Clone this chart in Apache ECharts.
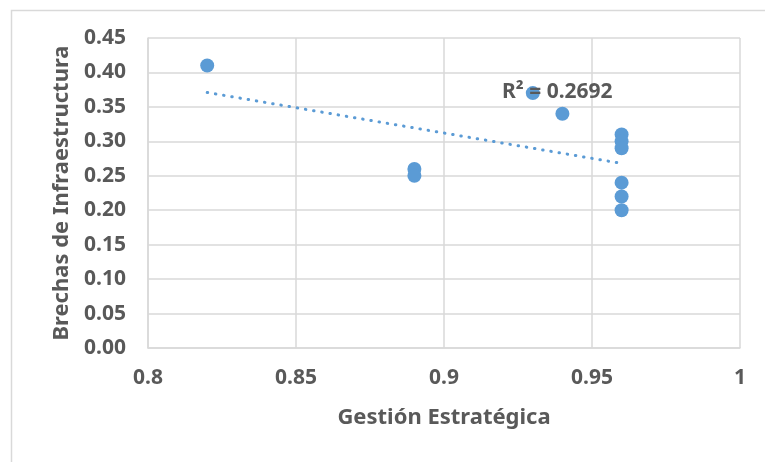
<!DOCTYPE html>
<html>
<head>
<meta charset="utf-8">
<script src="https://cdn.jsdelivr.net/npm/echarts@6/dist/echarts.min.js"></script>
<style>
html,body{margin:0;padding:0;background:#fff;}
#chart{width:765px;height:462px;}
</style>
</head>
<body>
<div id="chart"></div>
<script>
var gestion = [0.82, 0.89, 0.89, 0.93, 0.94, 0.96, 0.96, 0.96, 0.96, 0.96, 0.96];
var brechas = [0.41, 0.26, 0.25, 0.37, 0.34, 0.31, 0.30, 0.29, 0.24, 0.22, 0.20];
var xTitle = 'Gestión Estratégica';
var yTitle = 'Brechas de Infraestructura';
var r2Label = 'R² = 0.2692';

// linear trend (least squares) from data
var n = gestion.length, mx = 0, my = 0;
for (var i = 0; i < n; i++) { mx += gestion[i]; my += brechas[i]; }
mx /= n; my /= n;
var sxx = 0, sxy = 0;
for (var i = 0; i < n; i++) { sxx += (gestion[i]-mx)*(gestion[i]-mx); sxy += (gestion[i]-mx)*(brechas[i]-my); }
var slope = sxy / sxx, icpt = my - slope * mx;
var xMin = Math.min.apply(null, gestion), xMax = Math.max.apply(null, gestion);
var trend = [[xMin, icpt + slope*xMin], [xMax, icpt + slope*xMax]];

var FONT = 'Noto Sans';
var TXT = '#595959';
var GRID = '#D9D9D9';
var BLUE = '#5B9BD5';

var chart = echarts.init(document.getElementById('chart'), null, {renderer: 'canvas'});
chart.setOption({
  animation: false,
  backgroundColor: '#fff',
  grid: {left: 148, right: 25, top: 38, bottom: 114, containLabel: false},
  xAxis: {
    type: 'value', min: 0.8, max: 1, interval: 0.05,
    name: xTitle, nameLocation: 'middle', nameGap: 59,
    nameTextStyle: {fontFamily: FONT, fontWeight: 'bold', fontSize: 22, color: TXT},
    axisLine: {show: true, lineStyle: {color: GRID, width: 1.5}},
    axisTick: {show: false},
    axisLabel: {fontFamily: FONT, fontWeight: 'bold', fontSize: 21, color: TXT, margin: 20},
    splitLine: {show: true, lineStyle: {color: GRID, width: 1.5}}
  },
  yAxis: {
    type: 'value', min: 0, max: 0.45, interval: 0.05,
    name: yTitle, nameLocation: 'middle', nameGap: 74,
    nameTextStyle: {fontFamily: FONT, fontWeight: 'bold', fontSize: 22, color: TXT},
    axisLine: {show: true, lineStyle: {color: GRID, width: 1.5}},
    axisTick: {show: false},
    axisLabel: {fontFamily: FONT, fontWeight: 'bold', fontSize: 21, color: TXT, margin: 22,
      formatter: function (v) { return v.toFixed(2); }},
    splitLine: {show: true, lineStyle: {color: GRID, width: 1.5}}
  },
  graphic: [
    {type: 'rect', left: 9, top: 8, shape: {width: 800, height: 500},
     style: {fill: 'none', stroke: '#D9D9D9', lineWidth: 1.5}, silent: true, z: -10},
    {type: 'text', left: 502, top: 82, z: 100,
     style: {text: r2Label, fontFamily: FONT, fontWeight: 'bold', fontSize: 21, fill: TXT}}
  ],
  series: [
    {
      type: 'line', data: trend, symbol: 'none', z: 3,
      lineStyle: {color: BLUE, width: 3, type: [0.5, 7.8], cap: 'round'}
    },
    {
      type: 'scatter', data: gestion.map(function (x, i) { return [x, brechas[i]]; }),
      symbolSize: 14, z: 2,
      itemStyle: {color: BLUE, opacity: 1}
    }
  ]
});
</script>
</body>
</html>
